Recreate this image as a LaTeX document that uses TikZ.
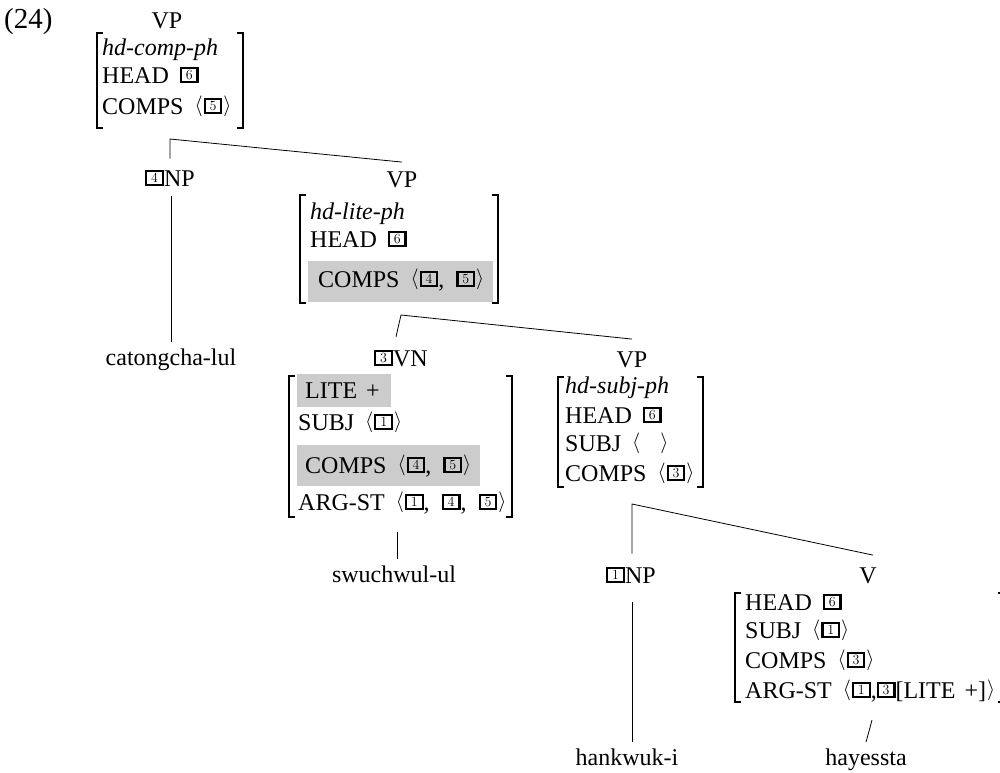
\documentclass[tikz,border=0pt]{standalone}
\usepackage{fontspec}
\setmainfont{Liberation Serif}
\definecolor{hlgray}{RGB}{204,204,204}
\newcommand\fsz{\fontsize{24}{28}\selectfont}
\newcommand\tagbox[1]{\raisebox{3.4pt}{\setlength\fboxrule{2.2pt}\setlength\fboxsep{1.2pt}\fbox{\makebox[12pt]{\rule{0pt}{9pt}\fontfamily{lmr}\fontsize{14}{14}\selectfont #1}}}}
\newcommand\myla{{\fontsize{20}{20}\selectfont\raisebox{3pt}{$\langle$}}\hspace{1pt}}
\newcommand\myra{\hspace{1pt}{\fontsize{20}{20}\selectfont\raisebox{3pt}{$\rangle$}}}
\newcommand\avmbrackets[4]{%
  \draw[brk] ({#1+6},#3) -- (#1,#3) -- (#1,#4) -- ({#1+6},#4);
  \draw[brk] ({#2-6},#3) -- (#2,#3) -- (#2,#4) -- ({#2-6},#4);}
\begin{document}
\begin{tikzpicture}[x=1pt,y=-1pt,
  lab/.style={anchor=base,inner sep=0pt,font=\fsz},
  row/.style={anchor=base west,inner sep=0pt,font=\fsz},
  word/.style={anchor=base,inner sep=0pt,font=\fsz},
  tree/.style={line width=0.8pt},
  brk/.style={line width=1.9pt}]
\useasboundingbox (0,0) rectangle (1000,772);
\clip (0,0) rectangle (1000,772);

\node[anchor=base west,inner sep=0pt,font=\fontsize{29}{30}\selectfont] (ex) at (4,28) {(24)};

% top VP
\node[lab] (vp1) at (167,28) {VP};
\avmbrackets{97}{243}{33}{128}
\node[row] (m1a) at (102,55) {\itshape hd-comp-ph};
\node[row] (m1b) at (102,83) {HEAD\hspace{11pt}\tagbox{6}};
\node[row] (m1c) at (102,114) {COMPS\hspace{11pt}\myla\tagbox{5}\myra};

\coordinate (ap1) at (170,139);
\node[lab] (np1) at (170,186) {\tagbox{4}NP};
\node[lab] (vp2) at (402,187) {VP};
\draw[tree] ([yshift=11pt]np1.north) -- (ap1) -- ([yshift=9pt]vp2.north);
\node[word] (w1) at (171,365) {catongcha-lul};
\draw[tree] ([xshift=1pt,yshift=-10pt]np1.south) -- ([yshift=6pt]w1.north);

% VP2 matrix
\fill[hlgray] (308,261) rectangle (493,302);
\avmbrackets{300}{498}{195}{303}
\node[row] (m2a) at (310,219) {\itshape hd-lite-ph};
\node[row] (m2b) at (310,247) {HEAD\hspace{11pt}\tagbox{6}};
\node[row] (m2c) at (318,287) {COMPS\hspace{11pt}\myla\tagbox{4},\hspace{12pt}\tagbox{5}\myra};

\coordinate (ap2) at (401,315);
\node[lab] (vn) at (401,366) {\tagbox{3}VN};
\node[lab] (vp3) at (632,367) {VP};
\draw[tree] ([xshift=-5pt,yshift=13pt]vn.north) -- (ap2) -- ([yshift=12pt]vp3.north);

% VN matrix
\fill[hlgray] (297,374) rectangle (391,407);
\fill[hlgray] (297,445) rectangle (480,486);
\avmbrackets{289}{512}{376}{517}
\node[row] (m3a) at (305,398) {LITE\hspace{9pt}+};
\node[row] (m3b) at (298,430) {SUBJ\hspace{11pt}\myla\tagbox{1}\myra};
\node[row] (m3c) at (305,473) {COMPS\hspace{11pt}\myla\tagbox{4},\hspace{12pt}\tagbox{5}\myra};
\node[row] (m3d) at (298,510) {ARG-ST\hspace{11pt}\myla\tagbox{1},\hspace{12pt}\tagbox{4},\hspace{12pt}\tagbox{5}\myra};

\coordinate (vnfoot) at (397,532);
\node[word] (w2) at (394,582) {swuchwul-ul};
\draw[tree] (vnfoot) -- ([xshift=3pt,yshift=6pt]w2.north);

% VP3 matrix
\avmbrackets{558}{703}{377}{487}
\node[row] (m4a) at (565,393) {\itshape hd-subj-ph};
\node[row] (m4b) at (565,423) {HEAD\hspace{11pt}\tagbox{6}};
\node[row] (m4c) at (565,451) {SUBJ\hspace{11pt}\myla\hspace{18pt}\myra};
\node[row] (m4d) at (565,481) {COMPS\hspace{11pt}\myla\tagbox{3}\myra};

\coordinate (ap3) at (632,504);
\node[lab] (np2) at (631,583) {\tagbox{1}NP};
\node[lab] (v) at (868,583) {V};
\draw[tree] ([xshift=1pt,yshift=13pt]np2.north) -- (ap3) -- ([xshift=5pt,yshift=12pt]v.north);
\node[word] (w3) at (627,765) {hankwuk-i};
\draw[tree] ([xshift=1pt,yshift=-19pt]np2.south) -- ([xshift=5pt,yshift=6pt]w3.north);

% V matrix
\avmbrackets{735}{1004}{593}{702}
\node[row] (m5a) at (745,610) {HEAD\hspace{11pt}\tagbox{6}};
\node[row] (m5b) at (745,638) {SUBJ\hspace{11pt}\myla\tagbox{1}\myra};
\node[row] (m5c) at (745,668) {COMPS\hspace{11pt}\myla\tagbox{3}\myra};
\node[row] (m5d) at (745,698) {ARG-ST\hspace{11pt}\myla\tagbox{1},\tagbox{3}[LITE\hspace{9pt}+]\myra};

\coordinate (vfoot) at (872,720);
\node[word] (w4) at (866,765) {hayessta};
\draw[tree] (vfoot) -- ([yshift=6pt]w4.north);
\end{tikzpicture}
\end{document}
